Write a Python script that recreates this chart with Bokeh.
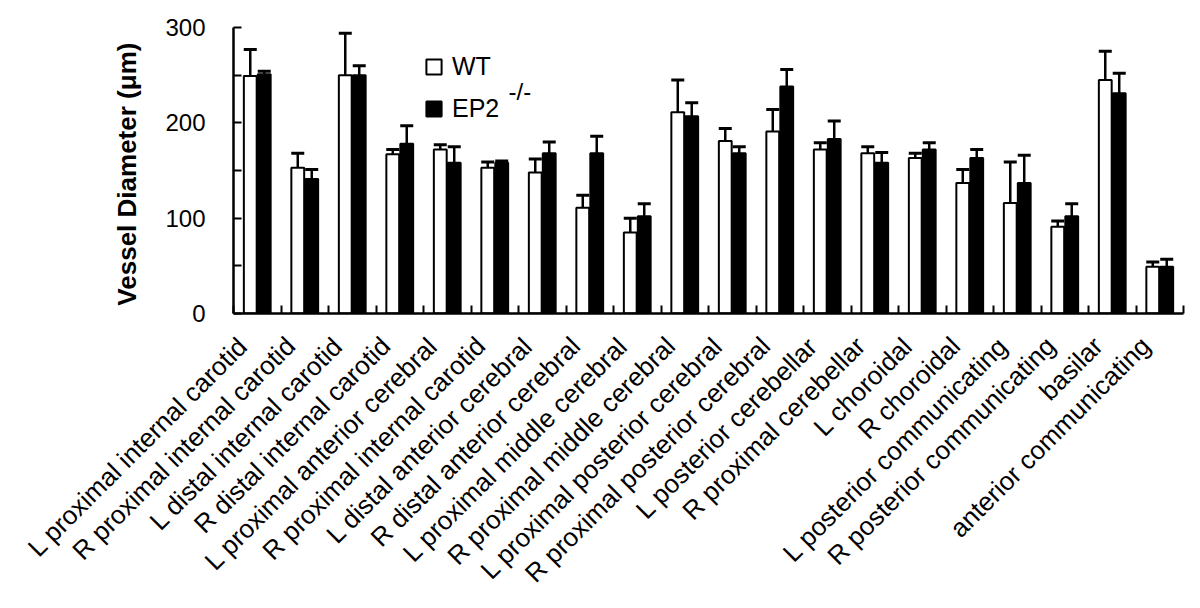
import math
from bokeh.plotting import figure
from bokeh.models import (ColumnDataSource, Range1d, FixedTicker, Whisker, TeeHead,
                          Legend, LegendItem, Label)
from bokeh.embed import file_html
from bokeh.resources import INLINE

categories = [
    "L proximal internal carotid", "R proximal internal carotid",
    "L distal internal carotid", "R distal internal carotid",
    "L proximal anterior cerebral", "R proximal internal carotid",
    "L distal anterior cerebral", "R distal anterior cerebral",
    "L proximal middle cerebral", "R proximal middle cerebral",
    "L proximal posterior cerebral", "R proximal posterior cerebral",
    "L posterior cerebellar", "R proximal cerebellar",
    "L choroidal", "R choroidal",
    "L posterior communicating", "R posterior communicating",
    "basilar", "anterior communicating",
]
wt_mean = [249, 153, 250, 167, 172, 153, 148, 111, 85, 211, 181, 191, 172, 168, 163, 137, 116, 91, 245, 49]
wt_err = [28, 15, 44, 5, 5, 6, 14, 13, 15, 34, 13, 23, 7, 7, 5, 14, 43, 6, 30, 5]
ep2_mean = [251, 141, 250, 178, 158, 158, 168, 168, 102, 207, 168, 238, 183, 158, 172, 163, 137, 102, 231, 49]
ep2_err = [3, 10, 10, 19, 17, 2, 12, 18, 13, 14, 7, 18, 19, 11, 7, 9, 29, 13, 21, 8]
y_ticks = [0, 100, 200, 300]
y_minor = [50, 150, 250]

FONT = "Liberation Sans"
n = len(categories)
off = 0.147
bw = 0.27
label_shift = 0.3  # label anchor shift (category units) to the left of the group centre

src_wt = ColumnDataSource(dict(
    x=[i + 0.5 - off for i in range(n)], top=wt_mean,
    upper=[m + e for m, e in zip(wt_mean, wt_err)]))
src_ep = ColumnDataSource(dict(
    x=[i + 0.5 + off for i in range(n)], top=ep2_mean,
    upper=[m + e for m, e in zip(ep2_mean, ep2_err)]))

p = figure(width=1190, height=598, output_backend="svg", toolbar_location=None,
           x_range=Range1d(0, n), y_range=Range1d(0, 300),
           min_border_left=233, min_border_top=27, min_border_right=7, min_border_bottom=285)
p.frame_width = 950
p.frame_height = 286
p.outline_line_color = None
p.grid.grid_line_color = None
p.background_fill_color = "white"
p.border_fill_color = "white"

for src in (src_wt, src_ep):
    w = Whisker(source=src, base="x", lower="top", upper="upper", dimension="height",
                line_color="black", line_width=2.5,
                upper_head=TeeHead(size=13, line_color="black", line_width=3),
                lower_head=None, level="underlay")
    p.add_layout(w)

r_wt = p.vbar(x="x", top="top", width=bw, bottom=0, source=src_wt,
              fill_color="white", line_color="black", line_width=2)
r_ep = p.vbar(x="x", top="top", width=bw, bottom=0, source=src_ep,
              fill_color="black", line_color="black", line_width=2)

# x axis
label_pos = [i + 0.5 - label_shift for i in range(n)]
xa = p.xaxis[0]
xa.ticker = FixedTicker(ticks=label_pos, minor_ticks=list(range(n + 1)))
xa.major_label_overrides = {x: c for x, c in zip(label_pos, categories)}
xa.major_label_orientation = math.pi / 4
xa.major_tick_line_color = None
xa.major_tick_in = 0
xa.major_tick_out = 0
xa.minor_tick_in = 8
xa.minor_tick_out = 0
xa.minor_tick_line_width = 2
xa.minor_tick_line_color = "black"
xa.axis_line_width = 2.5
xa.axis_line_color = "black"
xa.major_label_text_font = FONT
xa.major_label_text_font_size = "26px"
xa.major_label_text_color = "black"
xa.major_label_standoff = 28

# y axis
ya = p.yaxis[0]
ya.ticker = FixedTicker(ticks=y_ticks, minor_ticks=y_minor)
ya.major_tick_in = 8
ya.major_tick_out = 0
ya.minor_tick_in = 8
ya.minor_tick_out = 0
ya.major_tick_line_width = 2
ya.minor_tick_line_width = 2
ya.major_tick_line_color = "black"
ya.minor_tick_line_color = "black"
ya.axis_line_width = 2.5
ya.axis_line_color = "black"
ya.major_label_text_font = FONT
ya.major_label_text_font_size = "24px"
ya.major_label_text_color = "black"
ya.major_label_standoff = 28
ya.axis_label = "Vessel Diameter  (\u03bcm)"
ya.axis_label_text_font = FONT
ya.axis_label_text_font_size = "26px"
ya.axis_label_text_font_style = "bold"
ya.axis_label_text_color = "black"
ya.axis_label_standoff = 20

legend = Legend(items=[LegendItem(label="WT", renderers=[r_wt]),
                       LegendItem(label="EP2", renderers=[r_ep])],
                location=(191, 190), glyph_width=19, glyph_height=19,
                label_height=29, spacing=13, padding=0, margin=0,
                label_standoff=9, border_line_color=None,
                background_fill_alpha=0,
                label_text_font=FONT, label_text_font_size="25px",
                label_text_color="black")
p.add_layout(legend, "center")

sup = Label(x=275, y=222, x_units="screen", y_units="screen", text="-/-",
            text_font=FONT, text_font_size="24px", text_color="black",
            text_baseline="middle")
p.add_layout(sup)

open("out.html", "w").write(file_html(p, INLINE))
